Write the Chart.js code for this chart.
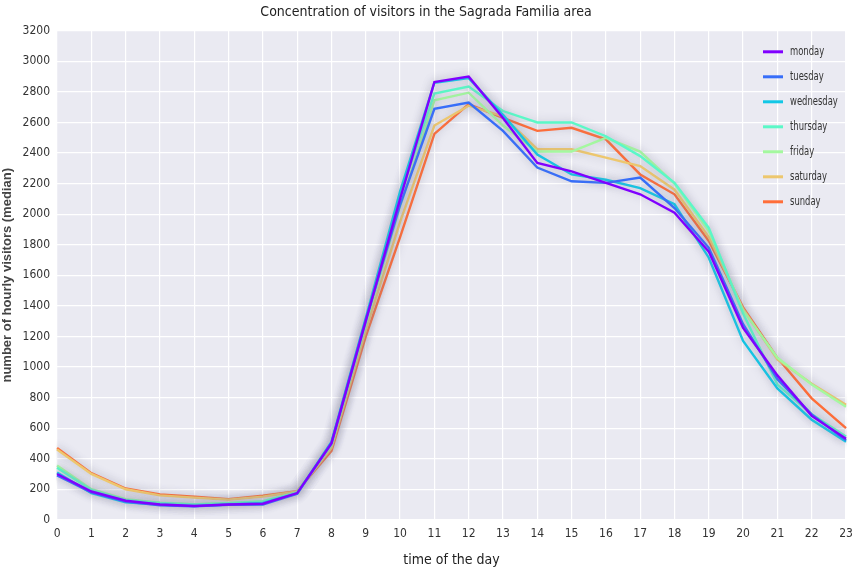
<!DOCTYPE html>
<html>
<head>
<meta charset="utf-8">
<script src="https://cdn.jsdelivr.net/npm/chart.js@4"></script>
<style>
  html, body { margin: 0; padding: 0; background: #fff; }
  #wrap { width: 852px; height: 575px; }
</style>
</head>
<body>
<div id="wrap"><canvas id="visitorsChart"></canvas></div>
<script>
// hours of the day
const hours = ['0','1','2','3','4','5','6','7','8','9','10','11','12','13','14','15','16','17','18','19','20','21','22','23'];

// median hourly visitors per weekday
const monday    = [300, 185, 125, 100, 90, 100, 105, 175, 500, 1300, 2100, 2865, 2900, 2630, 2335, 2280, 2205, 2130, 2010, 1755, 1255, 945, 680, 530];
const tuesday   = [290, 180, 120, 95, 88, 98, 100, 170, 505, 1310, 2060, 2690, 2730, 2545, 2305, 2215, 2205, 2240, 2040, 1780, 1280, 920, 690, 520];
const wednesday = [310, 175, 115, 100, 90, 100, 110, 172, 510, 1320, 2150, 2860, 2890, 2650, 2390, 2260, 2225, 2170, 2065, 1715, 1170, 860, 655, 510];
const thursday  = [340, 195, 130, 110, 100, 108, 120, 178, 495, 1290, 2120, 2790, 2835, 2675, 2600, 2600, 2510, 2380, 2205, 1910, 1350, 885, 690, 545];
const friday    = [355, 200, 135, 112, 102, 110, 122, 180, 490, 1280, 2050, 2745, 2795, 2580, 2410, 2410, 2500, 2410, 2200, 1890, 1370, 1060, 885, 740];
const saturday  = [460, 300, 200, 160, 145, 132, 152, 185, 470, 1240, 1950, 2580, 2710, 2640, 2425, 2425, 2370, 2315, 2160, 1850, 1380, 1050, 890, 752];
const sunday    = [470, 305, 205, 166, 151, 135, 157, 188, 450, 1200, 1850, 2525, 2720, 2630, 2545, 2565, 2490, 2260, 2130, 1825, 1390, 1060, 795, 600];

const dayNames  = ['monday','tuesday','wednesday','thursday','friday','saturday','sunday'];
const dayColors = ['#8000ff','#376ef9','#12c7e6','#5bf8c7','#a4f89f','#edc76e','#ff6e39'];

const narrow = '"Liberation Sans Narrow", "DejaVu Sans Condensed", "Liberation Sans", sans-serif';

// grey plot background like seaborn darkgrid
const plotBg = {
  id: 'plotBg',
  beforeDraw(chart) {
    const { ctx, chartArea: a } = chart;
    ctx.save();
    ctx.fillStyle = '#eaeaf2';
    ctx.fillRect(a.left, a.top, a.right - a.left, a.bottom - a.top);
    ctx.restore();
  }
};

// soft grey halo behind the lines (the confidence band look)
const halo = {
  id: 'halo',
  beforeDatasetsDraw(chart) {
    const ctx = chart.ctx;
    ctx.save();
    ctx.shadowColor = 'rgba(140,140,165,0.45)';
    ctx.shadowBlur = 9;
  },
  afterDatasetsDraw(chart) {
    chart.ctx.restore();
  }
};

// legend inside the plot, top right
const innerLegend = {
  id: 'innerLegend',
  afterDraw(chart) {
    const { ctx, chartArea: a } = chart;
    ctx.save();
    ctx.textBaseline = 'middle';
    chart.data.datasets.forEach((ds, i) => {
      const y = a.top + 21 + i * 25;
      ctx.strokeStyle = ds.borderColor;
      ctx.lineWidth = 3;
      ctx.beginPath();
      ctx.moveTo(a.right - 83, y);
      ctx.lineTo(a.right - 63, y);
      ctx.stroke();
      // squeeze the label a bit, the original uses a narrow face
      ctx.save();
      ctx.translate(a.right - 56, y);
      ctx.scale(0.78, 1);
      ctx.font = '12px ' + narrow;
      ctx.fillStyle = '#333';
      ctx.fillText(ds.label, 0, 0);
      ctx.restore();
    });
    ctx.restore();
  }
};

function visitorsChart() {
  const ctx = document.getElementById('visitorsChart').getContext('2d');
  const series = [monday, tuesday, wednesday, thursday, friday, saturday, sunday];

  const data = {
    labels: hours,
    datasets: series.map((vals, i) => ({
      label: dayNames[i],
      data: vals,
      borderColor: dayColors[i],
      backgroundColor: dayColors[i],
      borderWidth: 2.4,
      pointRadius: 0,
      tension: 0
    }))
  };

  const config = {
    type: 'line',
    data: data,
    options: {
      responsive: false,
      animation: false,
      layout: {
        padding: { top: 0, right: 0, bottom: 2, left: 0 }
      },
      plugins: {
        legend: { display: false },
        tooltip: { enabled: false },
        title: {
          display: true,
          text: 'Concentration of visitors in the Sagrada Familia area',
          color: '#222',
          font: { family: narrow, size: 14, weight: 'normal' },
          padding: { top: 4, bottom: 10 }
        }
      },
      scales: {
        x: {
          offset: false,
          grid: { color: '#ffffff', lineWidth: 1.2, drawTicks: false },
          border: { display: false },
          ticks: { color: '#333', font: { family: narrow, size: 12 }, padding: 7, maxRotation: 0, autoSkip: false },
          title: {
            display: true,
            text: 'time of the day',
            color: '#222',
            font: { family: narrow, size: 14 },
            padding: { top: 4 }
          },
          afterFit(scale) {
            scale.paddingRight = 6;
          }
        },
        y: {
          min: 0,
          max: 3200,
          grid: { color: '#ffffff', lineWidth: 1.2, drawTicks: false },
          border: { display: false },
          ticks: {
            stepSize: 200,
            color: '#333',
            font: { family: narrow, size: 12 },
            padding: 7,
            callback: (v) => String(v)
          },
          title: {
            display: true,
            text: 'number of hourly visitors (median)',
            color: '#444',
            font: { family: '"Liberation Sans", Arial, sans-serif', size: 13, weight: 'bold' },
            padding: { top: 0, bottom: 0 }
          }
        }
      }
    },
    plugins: [plotBg, halo, innerLegend]
  };

  const chart = new Chart(ctx, config);
}

const c = document.getElementById('visitorsChart');
c.width = 852;
c.height = 575;
visitorsChart();
</script>
</body>
</html>
